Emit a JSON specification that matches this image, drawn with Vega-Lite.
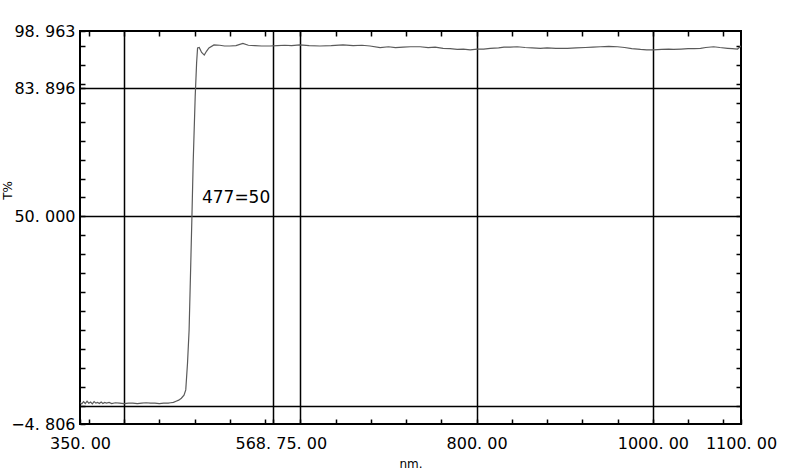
{
  "$schema": "https://vega.github.io/schema/vega-lite/v6.json",
  "width": 661,
  "height": 393,
  "autosize": "none",
  "padding": {"left": 80, "top": 31, "right": 49, "bottom": 50},
  "background": "white",
  "config": {
    "view": {"stroke": "#000", "strokeWidth": 2},
    "axis": {"labelFont": "DejaVu Sans", "labelFontSize": 16, "labelColor": "#000", "titleFont": "DejaVu Sans", "titleFontWeight": "normal", "titleColor": "#000", "tickColor": "#000", "tickWidth": 1.5, "gridColor": "#000", "gridWidth": 1.5, "domain": false}
  },
  "datasets": {
    "spectrum": [
      {"nm": 350, "T": 0.9}, {"nm": 352, "T": 0.5}, {"nm": 354, "T": 1.1}, {"nm": 356, "T": 0.6}, {"nm": 358, "T": 1.2},
      {"nm": 360, "T": 0.7}, {"nm": 362, "T": 1.0}, {"nm": 364, "T": 0.5}, {"nm": 366, "T": 1.1}, {"nm": 368, "T": 0.7},
      {"nm": 370, "T": 0.9}, {"nm": 372, "T": 0.6}, {"nm": 374, "T": 1.0}, {"nm": 376, "T": 0.6}, {"nm": 378, "T": 0.9},
      {"nm": 380, "T": 0.7}, {"nm": 383, "T": 0.9}, {"nm": 386, "T": 0.6}, {"nm": 390, "T": 0.8}, {"nm": 395, "T": 0.7},
      {"nm": 400, "T": 0.6}, {"nm": 405, "T": 0.7}, {"nm": 410, "T": 0.7}, {"nm": 415, "T": 0.6}, {"nm": 420, "T": 0.7},
      {"nm": 425, "T": 0.8}, {"nm": 430, "T": 0.7}, {"nm": 435, "T": 0.7}, {"nm": 440, "T": 0.6}, {"nm": 445, "T": 0.7},
      {"nm": 450, "T": 0.7}, {"nm": 453, "T": 0.8}, {"nm": 456, "T": 0.9}, {"nm": 459, "T": 1.2}, {"nm": 462, "T": 1.5},
      {"nm": 465, "T": 2.0}, {"nm": 468, "T": 2.8}, {"nm": 470, "T": 4.2}, {"nm": 472, "T": 11.3}, {"nm": 473.8, "T": 20.0},
      {"nm": 475.7, "T": 37.7}, {"nm": 477, "T": 50.0}, {"nm": 478.4, "T": 64.1}, {"nm": 480.7, "T": 81.6}, {"nm": 482.3, "T": 90.5},
      {"nm": 483.4, "T": 94.5}, {"nm": 485.3, "T": 94.6}, {"nm": 488, "T": 93.3}, {"nm": 491, "T": 92.6}, {"nm": 493.5, "T": 93.6},
      {"nm": 496.3, "T": 94.5}, {"nm": 502, "T": 95.3}, {"nm": 508.6, "T": 95.2}, {"nm": 514, "T": 95.0}, {"nm": 520, "T": 95.0},
      {"nm": 527, "T": 95.1}, {"nm": 534.8, "T": 95.7}, {"nm": 541, "T": 95.2}, {"nm": 548.4, "T": 95.1}, {"nm": 556, "T": 95.0},
      {"nm": 565.5, "T": 95.0}, {"nm": 574, "T": 95.1}, {"nm": 582.5, "T": 95.2}, {"nm": 590, "T": 95.1}, {"nm": 599.5, "T": 95.3},
      {"nm": 610, "T": 95.1}, {"nm": 622.3, "T": 95.0}, {"nm": 635, "T": 95.1}, {"nm": 648.4, "T": 95.3}, {"nm": 660, "T": 95.1},
      {"nm": 670, "T": 95.2}, {"nm": 679.1, "T": 95.0}, {"nm": 690.5, "T": 94.6}, {"nm": 700, "T": 94.8}, {"nm": 708, "T": 94.6},
      {"nm": 716.6, "T": 94.7}, {"nm": 725, "T": 94.8}, {"nm": 735.9, "T": 94.8}, {"nm": 745, "T": 94.6}, {"nm": 753, "T": 94.7},
      {"nm": 762, "T": 94.4}, {"nm": 770, "T": 94.3}, {"nm": 778, "T": 94.1}, {"nm": 785, "T": 94.2}, {"nm": 792.7, "T": 94.0},
      {"nm": 800.7, "T": 94.2}, {"nm": 808, "T": 94.2}, {"nm": 815.5, "T": 94.4}, {"nm": 825, "T": 94.5}, {"nm": 831, "T": 94.7},
      {"nm": 838.2, "T": 94.7}, {"nm": 846.1, "T": 94.8}, {"nm": 855, "T": 94.6}, {"nm": 863, "T": 94.5}, {"nm": 872.3, "T": 94.4},
      {"nm": 880, "T": 94.5}, {"nm": 890, "T": 94.4}, {"nm": 903, "T": 94.4}, {"nm": 913, "T": 94.5}, {"nm": 923.4, "T": 94.6},
      {"nm": 932, "T": 94.7}, {"nm": 940.5, "T": 94.8}, {"nm": 950, "T": 94.9}, {"nm": 959.8, "T": 94.8}, {"nm": 968, "T": 94.6},
      {"nm": 976, "T": 94.3}, {"nm": 986, "T": 94.1}, {"nm": 993, "T": 94.0}, {"nm": 1000.7, "T": 94.0}, {"nm": 1010, "T": 94.1},
      {"nm": 1018, "T": 94.2}, {"nm": 1023.4, "T": 94.1}, {"nm": 1032, "T": 94.2}, {"nm": 1040, "T": 94.3}, {"nm": 1047, "T": 94.3},
      {"nm": 1054.1, "T": 94.4}, {"nm": 1060, "T": 94.6}, {"nm": 1068.9, "T": 94.8}, {"nm": 1076, "T": 94.6}, {"nm": 1084.8, "T": 94.4},
      {"nm": 1090, "T": 94.3}, {"nm": 1096.1, "T": 94.2}, {"nm": 1098, "T": 94.6}, {"nm": 1100, "T": 95.0}
    ],
    "marker": [{"nm": 477, "T": 50, "label": "477=50"}]
  },
  "layer": [
    {
      "data": {"name": "spectrum"},
      "mark": {"type": "line", "color": "#5a5a5a", "strokeWidth": 1.2, "clip": true},
      "encoding": {
        "x": {
          "field": "nm", "type": "quantitative",
          "scale": {"domain": [350, 1100], "nice": false, "zero": false},
          "axis": {
            "orient": "bottom",
            "values": [350, 360, 400, 440, 480, 520, 560, 568.75, 600, 640, 680, 720, 760, 800, 840, 880, 920, 960, 1000, 1040, 1080, 1100],
            "labelExpr": "datum.value == 350 ? '350. 00' : datum.value == 568.75 ? '568. 75. 00' : datum.value == 800 ? '800. 00' : datum.value == 1000 ? '1000. 00' : datum.value == 1100 ? '1100. 00' : ''",
            "labelOffset": {"condition": {"test": "datum.value == 568.75", "value": 8}, "value": 0},
            "labelOverlap": false,
            "labelFlush": false,
            "labelPadding": 16,
            "tickSize": -5,
            "grid": true,
            "gridOpacity": {"condition": {"test": "datum.value == 400 || datum.value == 568.75 || datum.value == 600 || datum.value == 800 || datum.value == 1000", "value": 1}, "value": 0},
            "title": "nm.",
            "titleFontSize": 12,
            "titlePadding": 7
          }
        },
        "y": {
          "field": "T", "type": "quantitative",
          "scale": {"domain": [-4.806, 98.963], "nice": false, "zero": false},
          "axis": {
            "orient": "left",
            "values": [-4.806, 0, 5, 10, 15, 20, 25, 30, 35, 40, 45, 50, 55, 60, 65, 70, 75, 80, 83.896, 85, 90, 95, 98.963],
            "labelExpr": "datum.value == 98.963 ? '98. 963' : datum.value == 83.896 ? '83. 896' : datum.value == 50 ? '50. 000' : datum.value == -4.806 ? '−4. 806' : ''",
            "labelOverlap": false,
            "labelFlush": false,
            "labelPadding": 10,
            "tickSize": -5,
            "grid": true,
            "gridOpacity": {"condition": {"test": "datum.value == 0 || datum.value == 50 || datum.value == 83.896", "value": 1}, "value": 0},
            "title": "T%",
            "titleFontSize": 12,
            "titleX": -66,
            "titleY": 159
          }
        }
      }
    },
    {
      "data": {"name": "marker"},
      "mark": {"type": "text", "font": "DejaVu Sans", "fontSize": 17, "align": "left", "baseline": "alphabetic", "dx": 10, "dy": -13, "color": "#000"},
      "encoding": {
        "x": {
          "field": "nm", "type": "quantitative",
          "axis": {
            "orient": "top",
            "values": [360, 400, 440, 480, 520, 560, 600, 640, 680, 720, 760, 800, 840, 880, 920, 960, 1000, 1040, 1080],
            "labels": false, "grid": false, "tickSize": -5, "title": null
          }
        },
        "y": {
          "field": "T", "type": "quantitative",
          "axis": {
            "orient": "right",
            "values": [0, 5, 10, 15, 20, 25, 30, 35, 40, 45, 50, 55, 60, 65, 70, 75, 80, 85, 90, 95],
            "labels": false, "grid": false, "tickSize": -5, "title": null
          }
        },
        "text": {"field": "label"}
      }
    }
  ],
  "resolve": {"axis": {"x": "independent", "y": "independent"}}
}
